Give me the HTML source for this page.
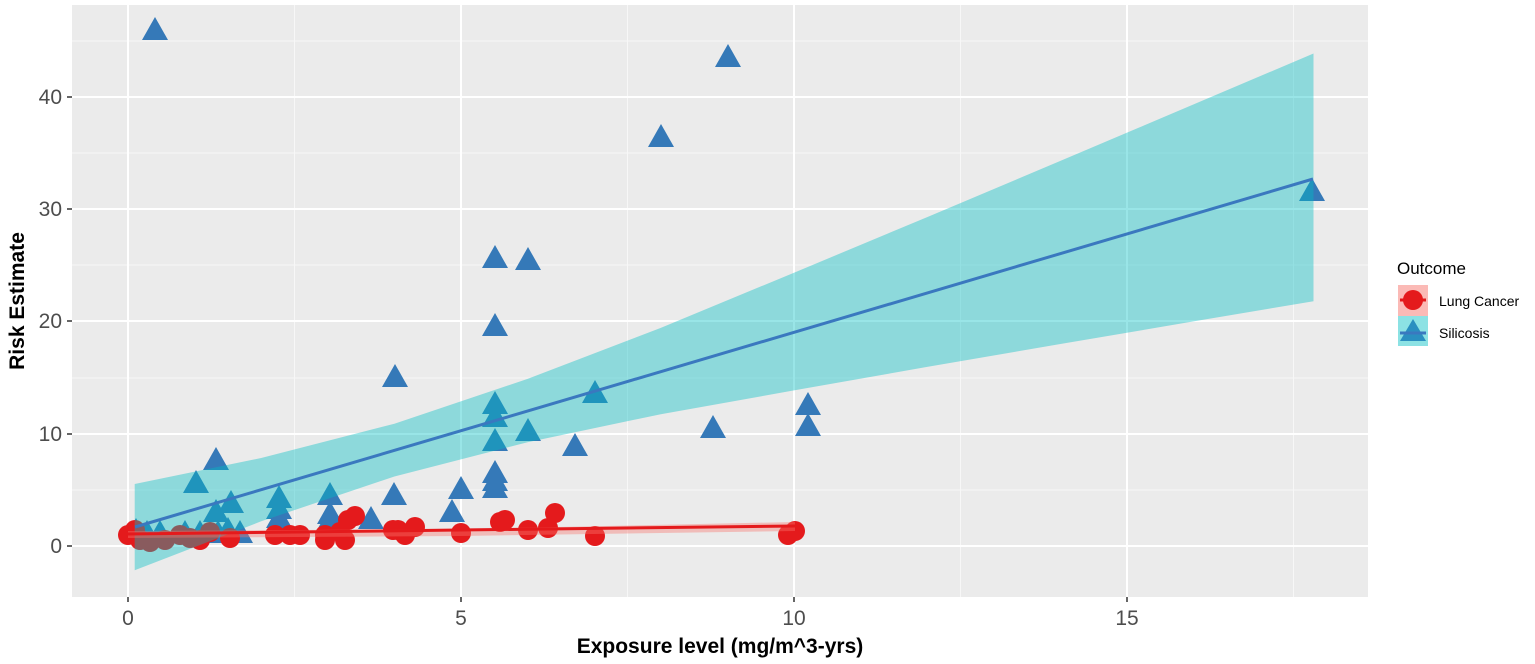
<!DOCTYPE html>
<html><head><meta charset="utf-8"><style>
body{margin:0;background:#fff;}
svg{display:block;font-family:"Liberation Sans",Arial,sans-serif;}
</style></head><body>
<svg width="1535" height="664" viewBox="0 0 1535 664">
<defs>
<g id="tri"><polygon points="0,-13 13,10 -13,10" fill="#3579B8"/></g>
<g id="cir"><circle r="10" fill="#E41A1C"/></g>
</defs>
<rect x="72" y="5" width="1296" height="592" fill="#EBEBEB"/>
<g stroke="#F7F7F7" stroke-width="1">
<line x1="72" x2="1368" y1="490" y2="490"/>
<line x1="72" x2="1368" y1="378" y2="378"/>
<line x1="72" x2="1368" y1="265" y2="265"/>
<line x1="72" x2="1368" y1="153" y2="153"/>
<line x1="72" x2="1368" y1="41" y2="41"/>
<line y1="5" y2="597" x1="294.5" x2="294.5"/>
<line y1="5" y2="597" x1="627.5" x2="627.5"/>
<line y1="5" y2="597" x1="960.5" x2="960.5"/>
<line y1="5" y2="597" x1="1293.5" x2="1293.5"/>
</g>
<g stroke="#FFFFFF" stroke-width="2">
<line x1="72" x2="1368" y1="546" y2="546"/>
<line x1="72" x2="1368" y1="434" y2="434"/>
<line x1="72" x2="1368" y1="321" y2="321"/>
<line x1="72" x2="1368" y1="209" y2="209"/>
<line x1="72" x2="1368" y1="97" y2="97"/>
<line y1="5" y2="597" x1="128" x2="128"/>
<line y1="5" y2="597" x1="461" x2="461"/>
<line y1="5" y2="597" x1="794" x2="794"/>
<line y1="5" y2="597" x1="1127" x2="1127"/>
</g>
<g>
<use href="#tri" x="155" y="30"/><use href="#tri" x="728" y="57"/><use href="#tri" x="661" y="137"/><use href="#tri" x="1312" y="191"/>
<use href="#tri" x="495" y="258"/><use href="#tri" x="528" y="260"/><use href="#tri" x="495" y="326"/><use href="#tri" x="395" y="377"/>
<use href="#tri" x="595" y="393"/><use href="#tri" x="495" y="404"/><use href="#tri" x="495" y="417"/>
<use href="#tri" x="808" y="405"/><use href="#tri" x="808" y="426"/><use href="#tri" x="713" y="428"/><use href="#tri" x="528" y="431"/>
<use href="#tri" x="495" y="441"/><use href="#tri" x="575" y="446"/><use href="#tri" x="216" y="460"/><use href="#tri" x="196" y="483"/>
<use href="#tri" x="461" y="489"/><use href="#tri" x="495" y="473"/><use href="#tri" x="495" y="481"/><use href="#tri" x="495" y="488"/>
<use href="#tri" x="330" y="495"/><use href="#tri" x="279" y="498"/><use href="#tri" x="231" y="503"/><use href="#tri" x="394" y="495"/>
<use href="#tri" x="216" y="512"/><use href="#tri" x="452" y="512"/><use href="#tri" x="279" y="509"/><use href="#tri" x="279" y="518"/>
<use href="#tri" x="330" y="514"/><use href="#tri" x="330" y="520"/><use href="#tri" x="371" y="519"/><use href="#tri" x="279" y="528"/>
<use href="#tri" x="228" y="530"/><use href="#tri" x="136" y="531"/><use href="#tri" x="160" y="533"/><use href="#tri" x="185" y="533"/>
<use href="#tri" x="200" y="533"/><use href="#tri" x="218" y="533"/><use href="#tri" x="240" y="533"/><use href="#tri" x="147" y="533"/>
</g>
<g>
<use href="#cir" x="128" y="535"/><use href="#cir" x="135" y="530"/><use href="#cir" x="140" y="540"/><use href="#cir" x="150" y="542"/>
<use href="#cir" x="165" y="540"/><use href="#cir" x="180" y="535"/><use href="#cir" x="190" y="538"/><use href="#cir" x="200" y="540"/>
<use href="#cir" x="210" y="532"/><use href="#cir" x="230" y="538"/><use href="#cir" x="275" y="535"/><use href="#cir" x="290" y="535"/>
<use href="#cir" x="300" y="535"/><use href="#cir" x="325" y="535"/><use href="#cir" x="325" y="540"/><use href="#cir" x="340" y="532"/>
<use href="#cir" x="345" y="540"/><use href="#cir" x="348" y="520"/><use href="#cir" x="355" y="516"/><use href="#cir" x="393" y="530"/>
<use href="#cir" x="398" y="530"/><use href="#cir" x="405" y="535"/><use href="#cir" x="415" y="527"/><use href="#cir" x="461" y="533"/>
<use href="#cir" x="500" y="522"/><use href="#cir" x="505" y="520"/><use href="#cir" x="528" y="530"/><use href="#cir" x="548" y="528"/>
<use href="#cir" x="555" y="513"/><use href="#cir" x="595" y="536"/><use href="#cir" x="788" y="535"/><use href="#cir" x="795" y="531"/>
</g>
<polygon fill="#00BFC4" fill-opacity="0.4" points="134.7,484 261.2,458 394.4,423.7 527.6,378.9 660.8,327.9 794,272.7 927.2,217.1 1060.4,160.9 1193.6,104.4 1313.5,53.5 1313.5,301.2 1193.6,321.4 1060.4,344 927.2,366.9 794,390.4 660.8,414.2 527.6,442.2 394.4,476.5 261.2,521.3 134.7,570.3"/>
<polygon fill="#F8766D" fill-opacity="0.4" points="128,531 461,529 795,522 795,531 461,536 128,538"/>
<line x1="128" y1="534" x2="795" y2="526" stroke="#E41A1C" stroke-width="3"/>
<line x1="135" y1="527" x2="1313" y2="179" stroke="#3A78BF" stroke-width="3"/>
<g stroke="#333" stroke-width="1.5">
<line x1="67" x2="72" y1="546" y2="546"/><line x1="67" x2="72" y1="434" y2="434"/><line x1="67" x2="72" y1="321" y2="321"/><line x1="67" x2="72" y1="209" y2="209"/><line x1="67" x2="72" y1="97" y2="97"/>
<line y1="597" y2="602" x1="128" x2="128"/><line y1="597" y2="602" x1="461" x2="461"/><line y1="597" y2="602" x1="794" x2="794"/><line y1="597" y2="602" x1="1127" x2="1127"/>
</g>
<g fill="#4D4D4D" font-size="21" text-anchor="end">
<text x="62" y="553">0</text><text x="62" y="441">10</text><text x="62" y="328">20</text><text x="62" y="216">30</text><text x="62" y="104">40</text>
</g>
<g fill="#4D4D4D" font-size="21" text-anchor="middle">
<text x="128" y="625">0</text><text x="461" y="625">5</text><text x="794" y="625">10</text><text x="1127" y="625">15</text>
</g>
<text x="720" y="653" font-size="21" font-weight="bold" text-anchor="middle">Exposure level (mg/m^3-yrs)</text>
<text transform="translate(24,301) rotate(-90)" font-size="21" font-weight="bold" text-anchor="middle">Risk Estimate</text>
<text x="1397" y="274" font-size="17">Outcome</text>
<rect x="1398" y="285" width="30" height="31" fill="#F8766D" fill-opacity="0.5"/>
<rect x="1398" y="316" width="30" height="30" fill="#00BFC4" fill-opacity="0.45"/>
<circle cx="1413" cy="300" r="10" fill="#E41A1C"/>
<line x1="1400" x2="1426" y1="300" y2="300" stroke="#E41A1C" stroke-width="3"/>
<polygon points="1413,319 1426,341 1400,341" fill="#2A8FC0"/>
<line x1="1400" x2="1426" y1="333" y2="333" stroke="#3A78BF" stroke-width="3"/>
<text x="1439" y="306" font-size="14">Lung Cancer</text>
<text x="1439" y="338" font-size="14">Silicosis</text>
</svg>
</body></html>
